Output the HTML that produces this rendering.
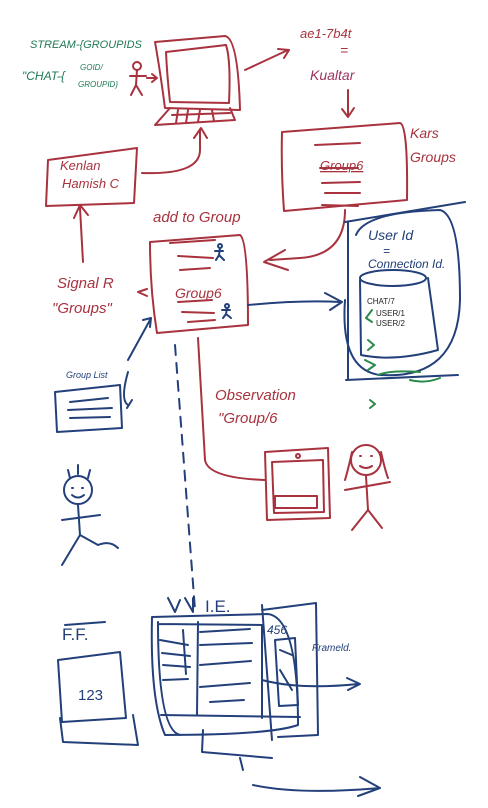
<!DOCTYPE html>
<html><head><meta charset="utf-8"><style>
html,body{margin:0;padding:0;background:#fff;width:488px;height:808px;overflow:hidden}
svg{display:block}
text{font-family:"Liberation Sans",sans-serif}
</style></head><body>
<svg width="488" height="808" viewBox="0 0 488 808" xmlns="http://www.w3.org/2000/svg" fill="none" stroke-linecap="round" stroke-linejoin="round">
<rect width="488" height="808" fill="#fff" stroke="none"/>
<g stroke="#a8323e" stroke-width="2">
<!-- monitor -->
<path d="M155 42 L225 36 Q238 38 240 110 L165 108 Q160 70 155 42Z"/>
<path d="M166 52 L226 45 Q231 60 229 103 L170 102 Q167 75 166 52Z"/>
<path d="M170 108 L155 125 L235 120 L230 108"/>
<path d="M172 115 L230 113 M178 110 L176 123 M188 110 L186 123 M200 110 L198 122 M212 110 L214 121"/>
<path d="M245 70 L288 50 M278 49 L289 50 L284 58"/>
<!-- stick fig -->
<circle cx="137" cy="66" r="4"/><path d="M137 70 L136 85 L131 95 M136 85 L142 95 M130 76 L146 76 M147 78 L157 78 M152 74 L157 78 L152 82"/>
<!-- arrow down -->
<path d="M348 90 L348 116 M342 109 L348 117 L354 108"/>
<!-- Kars box -->
<path d="M282 132 L400 123 Q408 125 407 200 L284 211 Q281 170 282 132Z"/>
<path d="M315 145 L360 143 M320 168 L358 168 M322 183 L360 182 M325 193 L360 193 M322 205 L358 206"/>
<!-- Kenlan box -->
<path d="M48 160 L137 148 L134 203 L46 206Z"/>
<path d="M142 173 Q200 175 200 150 L200 130 M194 138 L201 128 L207 138"/>
<path d="M83 262 L80 208 M74 218 L80 205 L88 215"/>
<!-- add to group box -->
<path d="M150 242 L240 235 Q248 240 248 325 L157 333 Q150 290 150 242Z"/>
<path d="M170 243 L215 240 M178 256 L213 258 M180 270 L210 268 M178 302 L212 300 M182 312 L214 313 M188 322 L215 320"/>
<path d="M147 289 L138 292 L147 296"/>
<path d="M345 210 Q345 255 300 258 L270 260 M285 250 L264 262 L288 270"/>
<!-- observation arrow -->
<path d="M198 338 L205 460 Q208 478 265 480"/>
<!-- tablet -->
<path d="M265 452 L328 448 L330 518 L267 520Z"/>
<path d="M272 462 L323 460 L324 512 L274 513Z"/>
<rect x="275" y="496" width="42" height="12"/>
<circle cx="298" cy="456" r="2"/>
<!-- girl -->
<circle cx="366" cy="460" r="15"/>
<path d="M360 456 l1 0 M371 456 l1 0 M360 466 Q366 470 372 466 M352 452 Q348 470 345 480 M381 452 Q385 470 388 478"/>
<path d="M366 476 L368 510 L352 530 M368 510 L382 528 M345 490 L390 482"/>
</g>
<g fill="#a8323e" font-style="italic" font-size="14">
<text x="300" y="38" font-size="13">ae1-7b4t</text>
<text x="340" y="55">=</text>
<text x="310" y="80" fill="#9b3560">Kualtar</text>
<text x="410" y="138">Kars</text>
<text x="410" y="162">Groups</text>
<text x="60" y="170" font-size="13">Kenlan</text>
<text x="62" y="188" font-size="13">Hamish C</text>
<text x="320" y="170" font-size="13" text-decoration="underline">Group6</text>
<text x="153" y="222" font-size="15">add to Group</text>
<text x="57" y="288" font-size="15">Signal R</text>
<text x="52" y="313" font-size="15">"Groups"</text>
<text x="175" y="298" font-size="14">Group6</text>
<text x="215" y="400" font-size="15">Observation</text>
<text x="218" y="423" font-size="15">"Group/6</text>
</g>
<g fill="#1f7a55" font-size="11" font-style="italic">
<text x="30" y="48">STREAM-{GROUPIDS</text>
<text x="22" y="80" font-size="12">"CHAT-{</text>
<text x="80" y="70" font-size="8">GOID/</text>
<text x="78" y="87" font-size="8">GROUPID}</text>
</g>
<g stroke="#23407a" stroke-width="2">
<!-- small blue figures -->
<circle cx="220" cy="246" r="2"/><path d="M220 248 L219 255 L216 260 M219 255 L224 260 M215 251 L223 251"/>
<circle cx="227" cy="306" r="2"/><path d="M227 308 L226 314 L223 318 M226 314 L231 318 M222 310 L230 310"/>
<!-- arrow to db -->
<path d="M248 305 Q300 300 340 302 M325 293 L342 302 L330 310"/>
<!-- container -->
<path d="M345 222 L465 202"/>
<path d="M348 222 L348 380 M346 380 L458 375"/>
<path d="M356 235 Q365 212 440 210 Q460 215 460 300 Q458 380 380 375 Q340 370 345 300"/>
<ellipse cx="393" cy="278" rx="33" ry="8"/>
<path d="M360 280 L361 355 Q395 362 438 350 L428 278"/>
<!-- group list -->
<path d="M128 372 Q120 400 128 405 M132 400 L127 408"/>
<path d="M55 392 L120 385 L122 428 L57 432Z"/>
<path d="M70 402 L108 398 M68 410 L112 408 M70 418 L110 417"/>
<path d="M128 360 L150 320 M143 320 L151 318 L150 327"/>
<!-- dashed line -->
<path d="M175 345 L195 610" stroke-dasharray="10 8"/>
<!-- blue person -->
<circle cx="78" cy="490" r="14"/>
<path d="M72 488 l1 0 M82 488 l1 0 M72 495 Q78 500 84 495 M68 470 L70 478 M78 465 L78 474 M90 470 L88 478"/>
<path d="M78 505 L80 535 L62 565 M80 535 L98 545 Q110 540 118 548 M62 520 L100 515"/>
<!-- browser -->
<path d="M152 617 L268 614 Q298 618 298 725 Q270 735 165 735 Q150 700 152 617Z"/>
<path d="M158 622 Q158 730 180 735 M158 624 L262 625 L262 718 M198 622 L197 715 M161 715 L300 717"/>
<path d="M200 632 L250 629 M200 645 L252 643 M200 665 L251 661 M200 687 L250 683 M210 702 L244 700"/>
<path d="M160 640 L188 645 M162 653 L190 656 M163 665 L190 667 M163 680 L188 679"/>
<path d="M183 630 L186 674"/>
<path d="M262 610 L316 603 L318 735 L278 737"/>
<path d="M275 640 L295 638 L298 705 L279 706Z M280 650 L292 655 M280 670 L292 690"/>
<path d="M262 680 Q300 690 358 684 M347 678 L360 684 L348 690"/>
<path d="M262 605 L272 740 M203 730 L202 752 L272 758 M240 758 L243 770"/>
<path d="M253 785 Q300 795 380 788 M360 777 L380 788 L358 796"/>
<path d="M168 598 L175 612 L180 600 M185 598 L193 612 L193 598"/>
<!-- FF box -->
<path d="M58 660 L120 652 L126 718 L62 722Z M60 718 L63 742 L138 745 L133 715"/>
<path d="M65 625 L105 622"/>
</g>
<g fill="#23407a" font-style="italic">
<text x="368" y="240" font-size="14">User Id</text>
<text x="383" y="255" font-size="12">=</text>
<text x="368" y="268" font-size="12">Connection Id.</text>
<text x="205" y="612" font-size="17" font-style="normal">I.E.</text>
<text x="267" y="634" font-size="12">456</text>
<text x="312" y="651" font-size="10">Frameld.</text>
<text x="62" y="640" font-size="17" font-style="normal">F.F.</text>
<text x="78" y="700" font-size="15" font-style="normal">123</text>
<text x="66" y="378" font-size="9">Group List</text>
</g>
<g fill="#222" font-size="8">
<text x="367" y="304">CHAT/7</text>
<text x="376" y="316">USER/1</text>
<text x="376" y="326">USER/2</text>
</g>
<g stroke="#2a8a4a" stroke-width="2">
<path d="M372 310 L366 318 L372 322 M368 340 L374 345 L368 350 M365 360 L375 365 L368 370 M378 375 Q390 370 420 372 M410 380 Q425 384 440 378 M370 400 L375 404 L370 408"/>
</g>
</svg>
</body></html>
